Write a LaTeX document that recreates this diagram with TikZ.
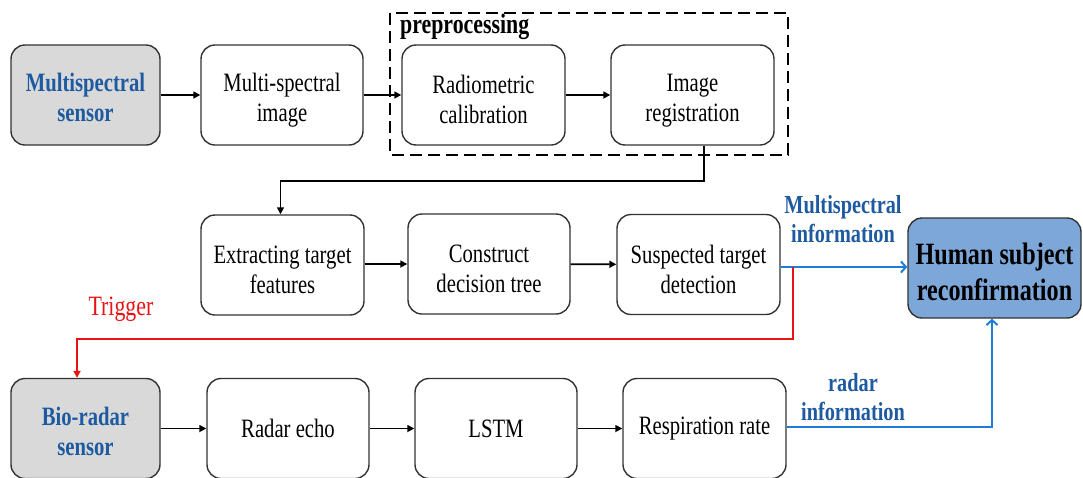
\documentclass[tikz,border=0pt]{standalone}
\usepackage{fontspec}
\setmainfont[FakeStretch=0.78]{Liberation Serif}
\usetikzlibrary{arrows.meta}
\definecolor{sensorgray}{RGB}{217,217,217}
\definecolor{fusionblue}{RGB}{125,167,217}
\definecolor{labelblue}{RGB}{30,90,160}
\definecolor{infoblue}{RGB}{30,125,215}
\definecolor{trigred}{RGB}{232,20,20}
% taller first line, so two-line labels sit a little lower in their boxes
\newcommand\lift[1][28pt]{\rule{0pt}{#1}}
\begin{document}
\begin{tikzpicture}[x=1pt,y=-1pt,
  box/.style={draw=black!80, line width=1.4pt, rounded corners=14pt,
    minimum height=100pt, inner sep=0pt, align=center,
    font=\fontsize{26.5}{30}\selectfont},
  sensor/.style={box, fill=sensorgray, text=labelblue,
    font=\fontsize{26.5}{30}\selectfont\bfseries},
  fusion/.style={box, fill=fusionblue, text=black,
    font=\fontsize{31}{36}\selectfont\bfseries},
  flow/.style={line width=1.6pt, -{Triangle[length=7pt,width=7pt]}},
  infoflow/.style={draw=infoblue, line width=2.2pt,
    -{Straight Barb[length=5pt,width=11pt,line width=2pt]}},
  trigflow/.style={draw=trigred, line width=2pt,
    -{Triangle[length=7pt,width=7pt]}},
  infolabel/.style={text=labelblue, align=center, inner sep=0pt,
    font=\fontsize{26}{29}\selectfont\bfseries},
  stage/.style={dash pattern=on 12pt off 6pt, line width=1.6pt}
]
\clip (0,0) rectangle (1083,477);
\fill[white] (0,0) rectangle (1083,477);

% preprocessing group
\draw[stage] (390,13) rectangle (788,155);
\node[anchor=west, inner sep=0pt, font=\fontsize{28}{30}\selectfont\bfseries]
  (prelabel) at (400,27) {preprocessing};

% first row: multispectral branch
\node[sensor, minimum width=149pt] (ms) at (85.5,95) {\lift[23pt]Multispectral\\sensor};
\node[box, minimum width=162pt] (msi) at (282,95) {\lift Multi-spectral\\image};
\node[box, minimum width=163pt] (rc) at (483.5,95) {\lift Radiometric\\calibration};
\node[box, minimum width=163pt] (ir) at (692.5,95) {\lift Image\\registration};

% second row: detection
\node[box, minimum width=163pt] (ext) at (282.5,265) {\lift Extracting target\\features};
\node[box, minimum width=162pt] (cdt) at (489,264) {\lift Construct\\decision tree};
\node[box, minimum width=163pt] (std) at (698.5,264.5) {\lift Suspected target\\detection};
\node[fusion, minimum width=173pt] (hsr) at (994.5,268) {\lift[29pt]Human subject\\reconfirmation};

% third row: bio-radar branch
\node[sensor, minimum width=149pt] (bio) at (85.5,428.5) {\lift[24pt]Bio-radar\\sensor};
\node[box, minimum width=162pt] (re) at (288,428.5) {Radar echo};
\node[box, minimum width=162pt] (lstm) at (496,428.5) {LSTM};
\node[box, minimum width=163pt] (rr) at (704.5,428.5) {Respiration rate};

% labels on the coloured connectors
\node[infolabel] (msinfo) at (843,219) {Multispectral\\information};
\node[infolabel] (rdinfo) at (853,397) {radar\\information};
\node[text=trigred, inner sep=0pt, font=\fontsize{28}{30}\selectfont]
  (trig) at (121,309) {Trigger};

% black process flow
\draw[flow] (ms) -- (msi);
\draw[flow] (msi) -- (rc);
\draw[flow] (rc) -- (ir);
\draw[flow] ([xshift=11.5pt]ir.south) -- ++(0,35) -| ([xshift=-2pt]ext.north);
\draw[flow] (ext.east |- cdt.east) -- (cdt.east -| cdt.west);
\draw[flow] (cdt) -- (std);
\draw[flow] (bio) -- (re);
\draw[flow] (re) -- (lstm);
\draw[flow] (lstm) -- (rr);

% information to the fusion stage
\coordinate (tap) at ([xshift=12pt,yshift=-2.5pt]std.east);
\draw[infoflow] ([yshift=-2.5pt]std.east) -- ([yshift=-2.5pt]std.east -| hsr.west);
\draw[infoflow] ([yshift=1.5pt]rr.east) -| ([xshift=-2.5pt]hsr.south);

% trigger from the detection to the bio-radar
\draw[trigflow] (tap) -- ++(0,72) -| ([xshift=-8.5pt]bio.north);
\end{tikzpicture}
\end{document}
